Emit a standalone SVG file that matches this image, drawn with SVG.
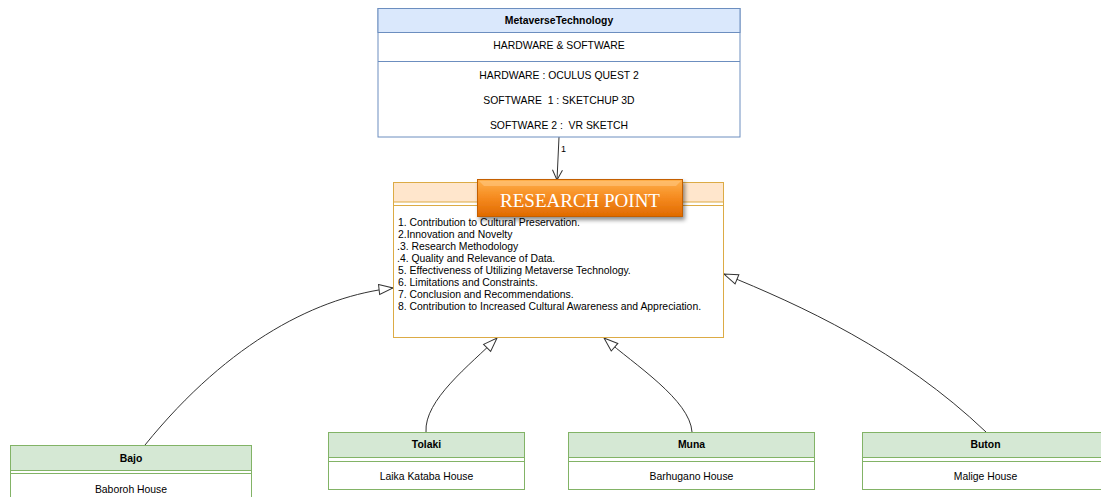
<svg xmlns="http://www.w3.org/2000/svg" width="1101" height="497" viewBox="0 0 1101 497">
<style>
text{font-family:"Liberation Sans",Arial,sans-serif;fill:#000;}
.t11{font-size:10.4px;}
.b{font-weight:bold;}
.c{text-anchor:middle;}
.blue{fill:#dae8fc;stroke:#6c8ebf;stroke-width:1;}
.white{fill:#fff;}
.green{fill:#d5e8d4;stroke:#82b366;stroke-width:1;}
.gline{stroke:#82b366;stroke-width:1;fill:none;}
.orange{fill:#ffe6cc;stroke:#dcab45;stroke-width:1;}
.oline{stroke:#dcab45;stroke-width:1;fill:none;}
.conn{fill:none;stroke:#333;stroke-width:1;}
</style>
<defs>
<marker id="tri" viewBox="0 0 16 12" refX="15" refY="6" markerWidth="16" markerHeight="12" markerUnits="userSpaceOnUse" orient="auto">
<path d="M1,1 L15,6 L1,11 Z" fill="#fff" stroke="#333" stroke-width="1"/>
</marker>
<marker id="open" viewBox="0 0 12 12" refX="11" refY="6" markerWidth="12" markerHeight="12" markerUnits="userSpaceOnUse" orient="auto">
<path d="M1,1 L11,6 L1,11" fill="none" stroke="#333" stroke-width="1"/>
</marker>
<linearGradient id="og" x1="0" y1="0" x2="0" y2="1">
<stop offset="0" stop-color="#ffb04a"/>
<stop offset="0.5" stop-color="#f58a1f"/>
<stop offset="1" stop-color="#e06a00"/>
</linearGradient>
<filter id="sh" x="-10%" y="-30%" width="130%" height="180%">
<feDropShadow dx="2" dy="3" stdDeviation="2" flood-color="#000" flood-opacity="0.45"/>
</filter>
</defs>

<g id="connectors">
<path class="conn" d="M559,137 L557,180" marker-end="url(#open)"/>
<text x="561" y="152" style="font-size:9px">1</text>
<path class="conn" d="M145,445 C230,340 320,296 393,288" marker-end="url(#tri)"/>
<path class="conn" d="M426,432 C424,400 470,365 497,338" marker-end="url(#tri)"/>
<path class="conn" d="M692,432 C690,400 635,365 604,338" marker-end="url(#tri)"/>
<path class="conn" d="M986,432 C900,350 800,305 724,274" marker-end="url(#tri)"/>
</g>

<g id="metaverse">
<rect x="378" y="8.5" width="362" height="128.5" class="white" stroke="#6c8ebf"/>
<rect x="378" y="8.5" width="362" height="24" class="blue"/>
<line x1="378" y1="61.5" x2="740" y2="61.5" stroke="#6c8ebf"/>
<text x="559" y="24" class="t11 b c">MetaverseTechnology</text>
<text x="559" y="49" class="t11 c">HARDWARE &amp; SOFTWARE</text>
<text x="559" y="79" class="t11 c">HARDWARE : OCULUS QUEST 2</text>
<text x="559" y="104" class="t11 c" xml:space="preserve">SOFTWARE  1 : SKETCHUP 3D</text>
<text x="559" y="129" class="t11 c" xml:space="preserve">SOFTWARE 2 :  VR SKETCH</text>
</g>

<g id="research">
<rect x="393.5" y="182.5" width="330" height="155" fill="#fff" stroke="#dcab45"/>
<rect x="393.5" y="182.5" width="330" height="19.5" class="orange"/>
<line x1="393.5" y1="205.5" x2="723.5" y2="205.5" class="oline"/>
<g class="t11">
<text x="398" y="226">1. Contribution to Cultural Preservation.</text>
<text x="398" y="238">2.Innovation and Novelty</text>
<text x="397" y="250">.3. Research Methodology</text>
<text x="397" y="262">.4. Quality and Relevance of Data.</text>
<text x="398" y="274">5. Effectiveness of Utilizing Metaverse Technology.</text>
<text x="398" y="286">6. Limitations and Constraints.</text>
<text x="398" y="298">7. Conclusion and Recommendations.</text>
<text x="398" y="310">8. Contribution to Increased Cultural Awareness and Appreciation.</text>
</g>
</g>

<g id="research-point">
<rect x="477.5" y="179.5" width="205" height="37" fill="url(#og)" stroke="#c45f00" filter="url(#sh)"/>
<path d="M479,181 L681,181 L676,186 L484,186 Z" fill="#ffc680" opacity="0.6"/>
<text x="580" y="207" class="c" style="font-family:'Liberation Serif','Times New Roman',serif;font-size:19px;fill:#fff">RESEARCH POINT</text>
</g>

<g id="bajo">
<rect x="10.5" y="445.5" width="241" height="60" fill="#fff" stroke="#82b366"/>
<rect x="10.5" y="445.5" width="241" height="25" class="green"/>
<line x1="10.5" y1="473.5" x2="251.5" y2="473.5" class="gline"/>
<text x="131" y="461.5" class="t11 b c">Bajo</text>
<text x="131" y="493" class="t11 c">Baboroh House</text>
</g>

<g id="tolaki">
<rect x="328.5" y="432.5" width="196" height="57" fill="#fff" stroke="#82b366"/>
<rect x="328.5" y="432.5" width="196" height="25" class="green"/>
<line x1="328.5" y1="461.5" x2="524.5" y2="461.5" class="gline"/>
<text x="426.5" y="448" class="t11 b c">Tolaki</text>
<text x="426.5" y="480" class="t11 c">Laika Kataba House</text>
</g>

<g id="muna">
<rect x="568.5" y="432.5" width="246" height="57" fill="#fff" stroke="#82b366"/>
<rect x="568.5" y="432.5" width="246" height="25" class="green"/>
<line x1="568.5" y1="461.5" x2="814.5" y2="461.5" class="gline"/>
<text x="691.5" y="448" class="t11 b c">Muna</text>
<text x="691.5" y="480" class="t11 c">Barhugano House</text>
</g>

<g id="buton">
<rect x="862.5" y="432.5" width="246" height="57" fill="#fff" stroke="#82b366"/>
<rect x="862.5" y="432.5" width="246" height="25" class="green"/>
<line x1="862.5" y1="461.5" x2="1108.5" y2="461.5" class="gline"/>
<text x="985.5" y="448" class="t11 b c">Buton</text>
<text x="985.5" y="480" class="t11 c">Malige House</text>
</g>
</svg>
